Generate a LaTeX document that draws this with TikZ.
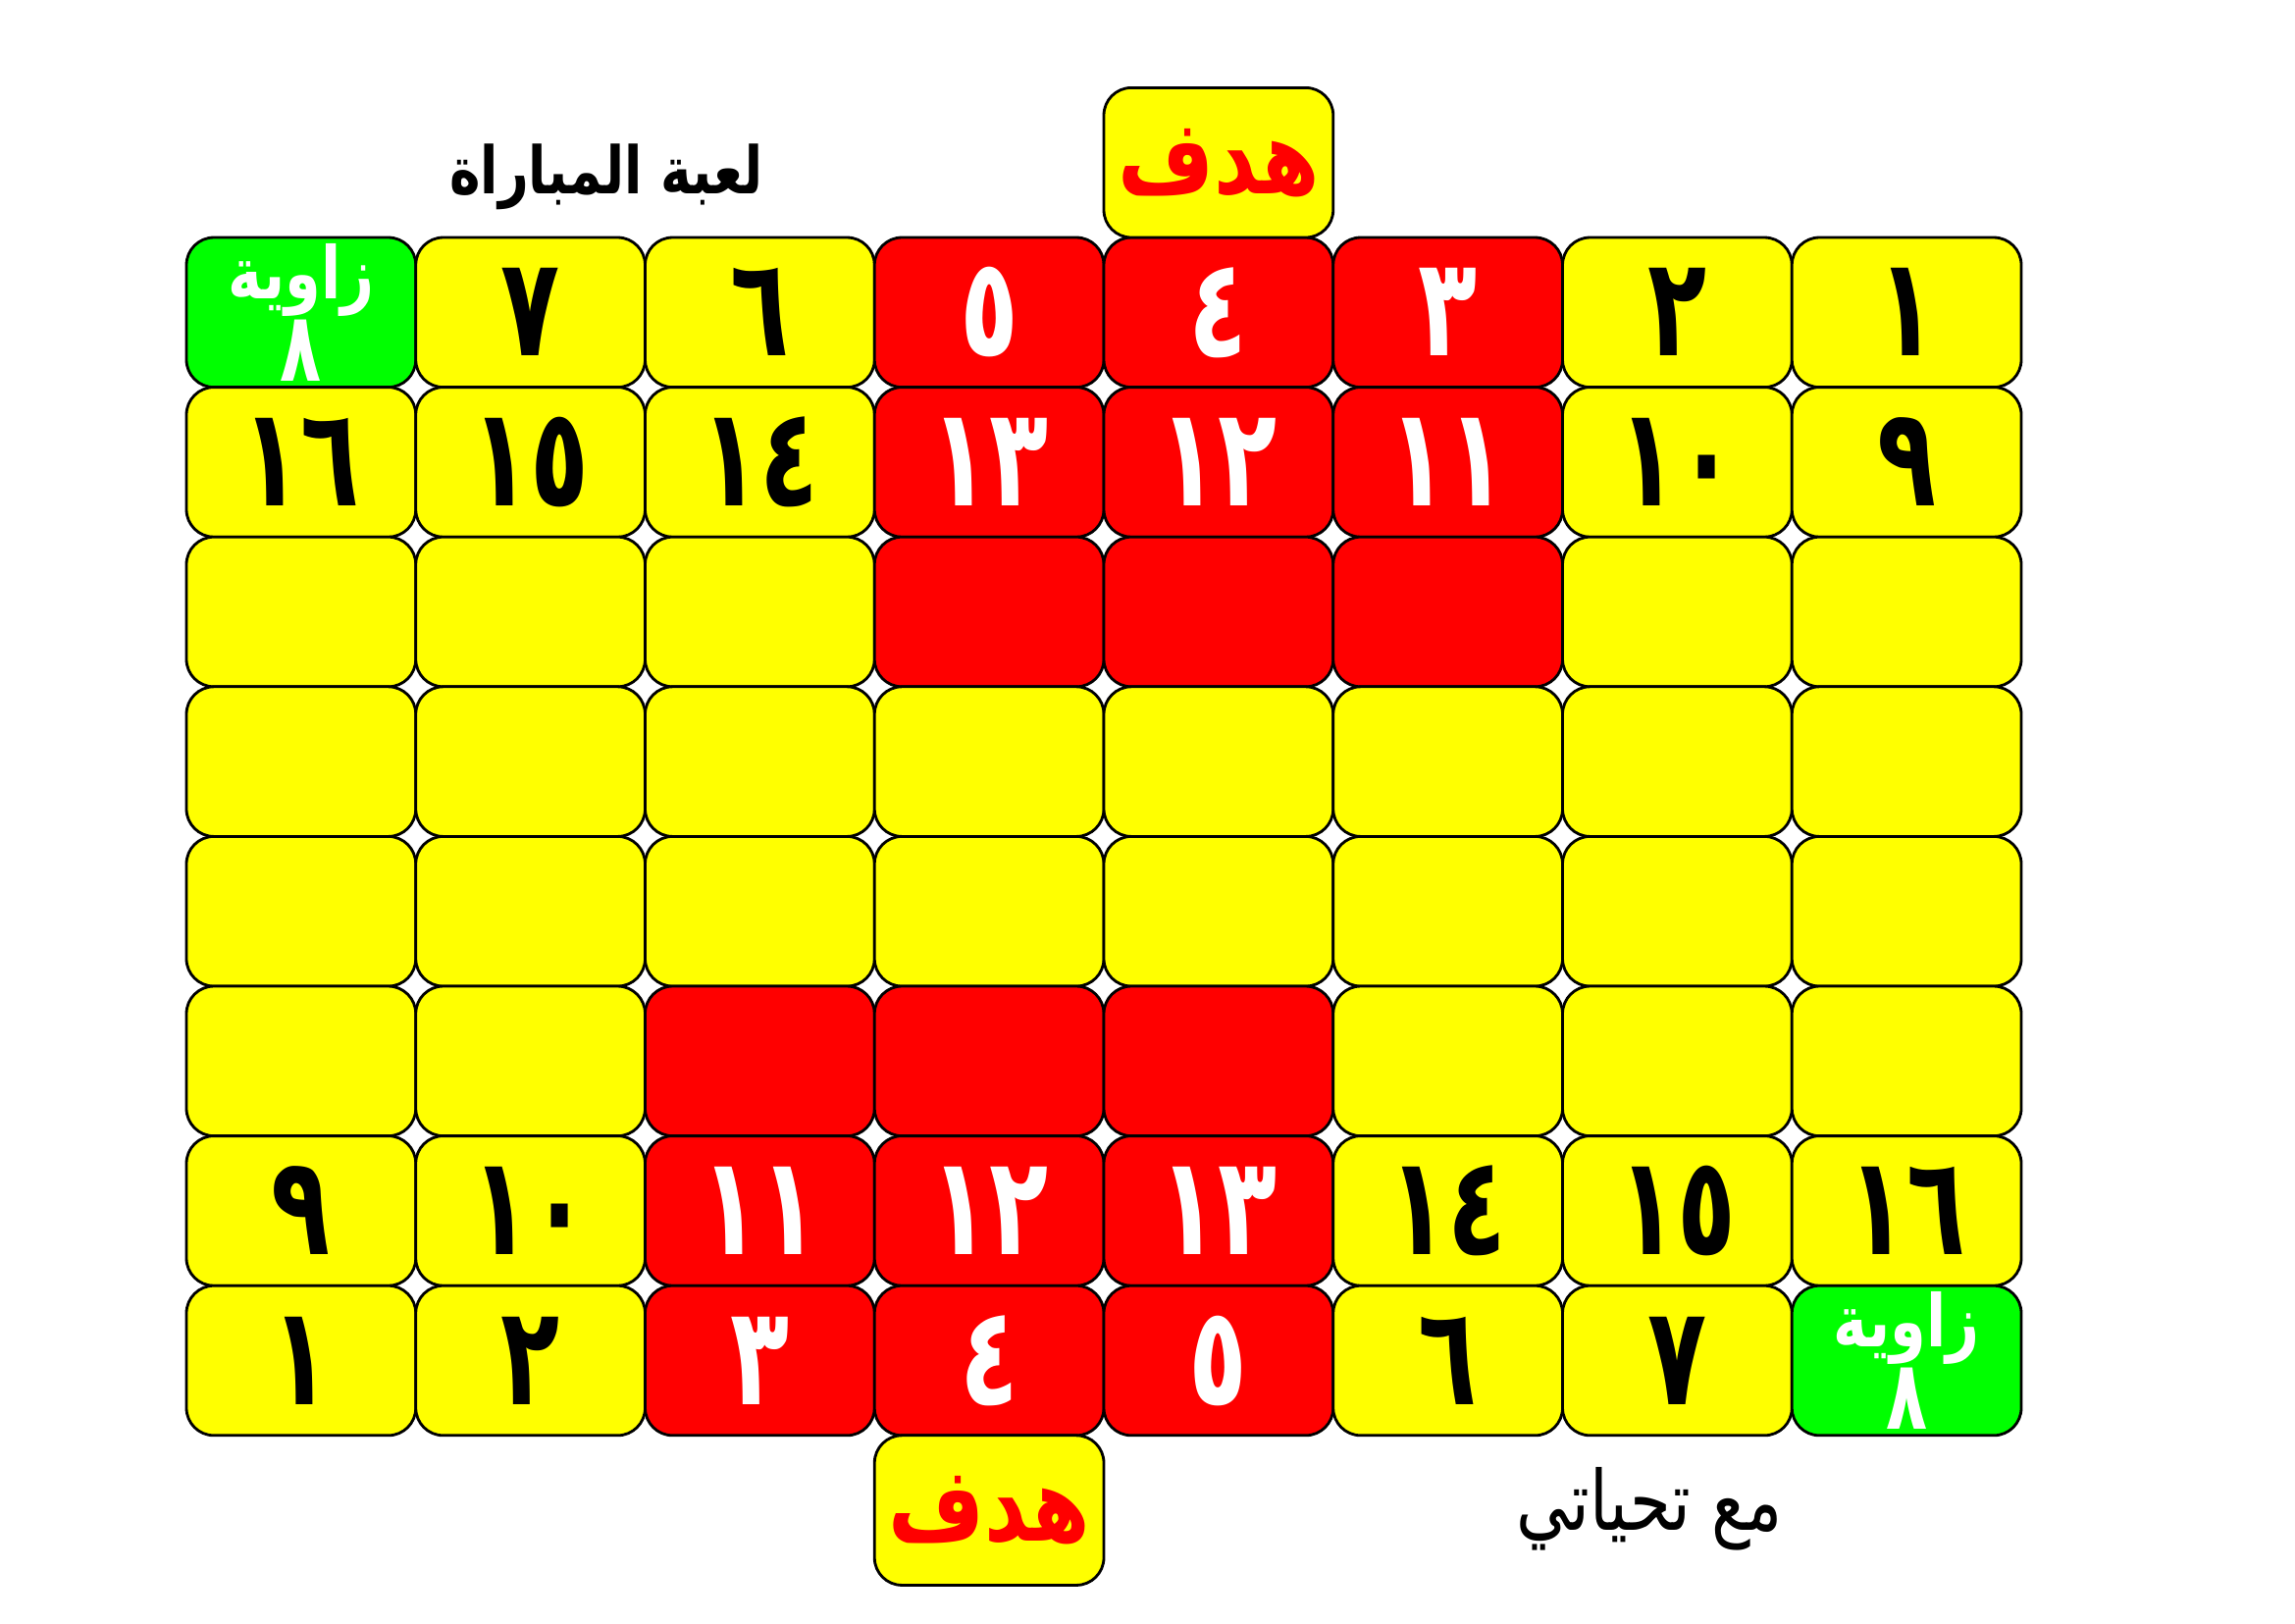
\documentclass[tikz,border=0pt]{standalone}
\usepackage{fontspec}
\usepackage{xcolor}
\usepackage{tikz}
\usetikzlibrary{positioning}
\newfontfamily\arabicfont[Script=Arabic]{DejaVu Sans}
\newfontfamily\tallfont[Script=Arabic, FakeStretch=0.8]{DejaVu Sans}
\newfontfamily\digitfont[Script=Arabic, FakeStretch=0.7]{DejaVu Sans}
\TeXXeTstate=1
\definecolor{boardyellow}{RGB}{255,255,0}
\definecolor{boardred}{RGB}{255,0,0}
\definecolor{boardgreen}{RGB}{0,255,0}

\begin{document}
\begin{tikzpicture}[x=0.1mm, y=-0.1mm, node distance=0pt,
    cellbox/.style={draw, line width=0.8pt, rounded corners=2.8mm, outer sep=0pt, inner sep=0pt,
      minimum width=23.375mm, minimum height=15.26mm,
      font=\digitfont\bfseries\fontsize{40}{44}\selectfont},
    plainbox/.style={cellbox, fill=boardyellow, text=black},
    hotbox/.style={cellbox, fill=boardred, text=white},
    cornerbox/.style={cellbox, fill=boardgreen, text=white, align=center,
      font=\tallfont\bfseries\fontsize{21}{22}\selectfont},
    goalbox/.style={cellbox, fill=boardyellow, text=boardred,
      font=\tallfont\bfseries\fontsize{30}{34}\selectfont}]
    \useasboundingbox (0,0) rectangle (2339,1654);
    % top two rows
    \foreach \c/\kind/\txt in {1/cornerbox/{\beginR زاوية\endR\\{\digitfont\bfseries\fontsize{28}{20}\selectfont ٨}}, 2/plainbox/٧, 3/plainbox/٦,
        4/hotbox/٥, 5/hotbox/٤, 6/hotbox/٣, 7/plainbox/٢, 8/plainbox/١}
      \node[\kind] (cell-1-\c) at ({190+(\c-0.5)*233.75}, 318.3) {\txt};
    \foreach \c/\kind/\txt in {1/plainbox/١٦, 2/plainbox/١٥, 3/plainbox/١٤,
        4/hotbox/١٣, 5/hotbox/١٢, 6/hotbox/١١, 7/plainbox/١٠, 8/plainbox/٩}
      \node[\kind] (cell-2-\c) at ({190+(\c-0.5)*233.75}, 470.9) {\txt};
    % empty middle rows
    \foreach \c/\kind in {1/plainbox, 2/plainbox, 3/plainbox, 4/hotbox,
        5/hotbox, 6/hotbox, 7/plainbox, 8/plainbox}
      \node[\kind] (cell-3-\c) at ({190+(\c-0.5)*233.75}, 623.5) {};
    \foreach \r in {4,5}
      \foreach \c in {1,...,8}
        \node[plainbox] (cell-\r-\c) at ({190+(\c-0.5)*233.75}, {242+(\r-0.5)*152.6}) {};
    \foreach \c/\kind in {1/plainbox, 2/plainbox, 3/hotbox, 4/hotbox,
        5/hotbox, 6/plainbox, 7/plainbox, 8/plainbox}
      \node[\kind] (cell-6-\c) at ({190+(\c-0.5)*233.75}, 1081.3) {};
    % bottom two rows
    \foreach \c/\kind/\txt in {1/plainbox/٩, 2/plainbox/١٠, 3/hotbox/١١,
        4/hotbox/١٢, 5/hotbox/١٣, 6/plainbox/١٤, 7/plainbox/١٥, 8/plainbox/١٦}
      \node[\kind] (cell-7-\c) at ({190+(\c-0.5)*233.75}, 1233.9) {\txt};
    \foreach \c/\kind/\txt in {1/plainbox/١, 2/plainbox/٢, 3/hotbox/٣, 4/hotbox/٤,
        5/hotbox/٥, 6/plainbox/٦, 7/plainbox/٧, 8/cornerbox/{\beginR زاوية\endR\\{\digitfont\bfseries\fontsize{28}{20}\selectfont ٨}}}
      \node[\kind] (cell-8-\c) at ({190+(\c-0.5)*233.75}, 1386.5) {\txt};
    % goals
    \node[goalbox, above=of cell-1-5] (goal-top) {\beginR هدف\endR};
    \node[goalbox, below=of cell-8-4] (goal-bottom) {\beginR هدف\endR};
    % captions
    \node[font=\tallfont\bfseries\fontsize{19}{22}\selectfont] (title) at (618,180) {\beginR لعبة المباراة\endR};
    \node[font=\tallfont\fontsize{24}{26}\selectfont] (greeting) at (1681,1538) {\beginR مع تحياتي\endR};
\end{tikzpicture}
\end{document}
